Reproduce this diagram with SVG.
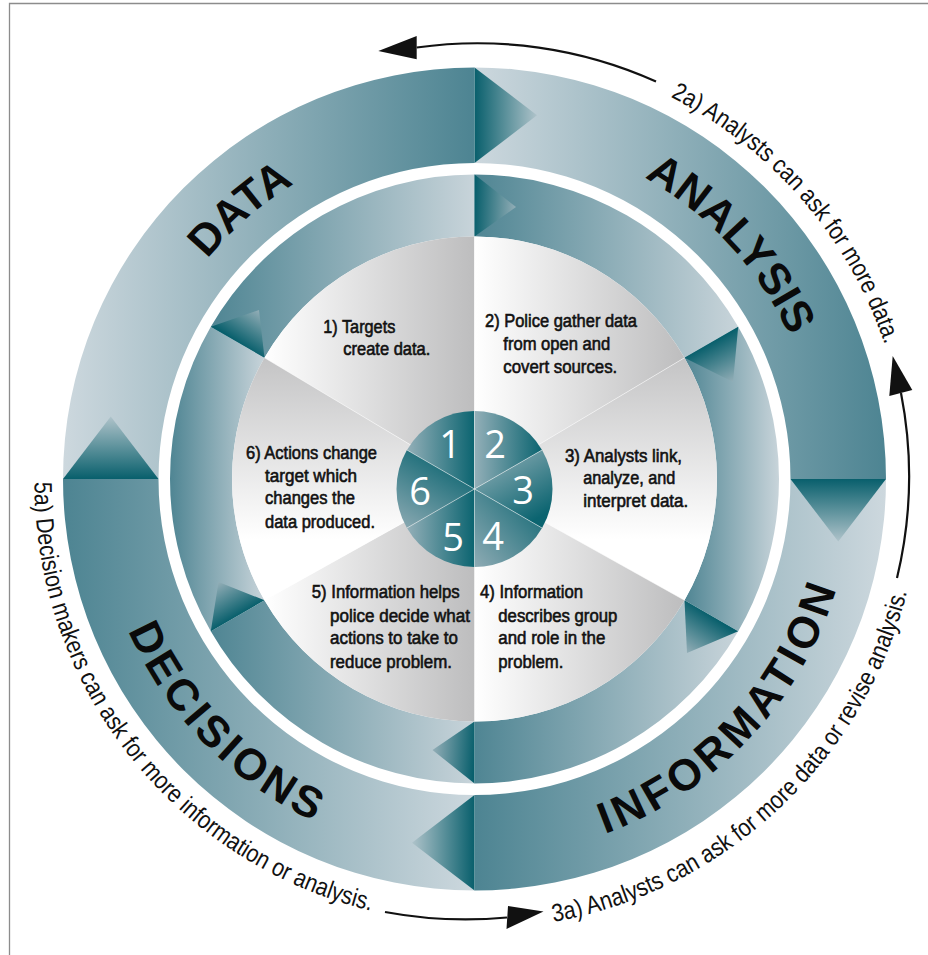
<svg xmlns="http://www.w3.org/2000/svg" width="928" height="955" viewBox="0 0 928 955">
<defs>
<style>
.lbl{font-family:"Liberation Sans",Arial,sans-serif;font-weight:bold;font-size:44px;fill:#0a0a0a}
.ann{font-family:"Liberation Sans",Arial,sans-serif;font-size:25px;fill:#111}
.pt{font-family:"Liberation Sans",Arial,sans-serif;font-size:18px;fill:#111;stroke:#111;stroke-width:0.6}
.num{font-family:"Open Sans","Noto Sans",sans-serif;font-size:38px;fill:#fff;text-anchor:middle}
.sep{stroke:#fff;stroke-opacity:0.55;stroke-width:0.9;fill:none}
.conn{fill:none;stroke:#111;stroke-width:2.2}
.head{fill:#111}
</style>
<linearGradient id="oLD" x1="0" y1="0" x2="1" y2="0"><stop offset="0" stop-color="#cdd8de"/><stop offset="1" stop-color="#4d8492"/></linearGradient>
<linearGradient id="oDL" x1="0" y1="0" x2="1" y2="0"><stop offset="0" stop-color="#4d8492"/><stop offset="1" stop-color="#cdd8de"/></linearGradient>
<linearGradient id="iDL" x1="0" y1="0" x2="1" y2="0"><stop offset="0" stop-color="#4f8593"/><stop offset="1" stop-color="#c8d4da"/></linearGradient>
<linearGradient id="pH" x1="0" y1="0" x2="1" y2="0"><stop offset="0" stop-color="#ffffff"/><stop offset="1" stop-color="#bdbdbe"/></linearGradient>
<linearGradient id="pV" x1="0" y1="0" x2="0" y2="1"><stop offset="0" stop-color="#c4c4c5"/><stop offset="0.75" stop-color="#ffffff"/></linearGradient>
<linearGradient id="c1" x1="0" y1="0" x2="1" y2="0"><stop offset="0" stop-color="#93afb8"/><stop offset="1" stop-color="#0b6470"/></linearGradient>
<linearGradient id="c3" x1="0" y1="0" x2="0.6" y2="1"><stop offset="0" stop-color="#9db6be"/><stop offset="1" stop-color="#0b6470"/></linearGradient>
<linearGradient id="c4" x1="0" y1="1" x2="1" y2="0"><stop offset="0" stop-color="#8eabb4"/><stop offset="1" stop-color="#0b6470"/></linearGradient>
<linearGradient id="c6" x1="0.6" y1="0" x2="0" y2="1"><stop offset="0" stop-color="#0b6470"/><stop offset="1" stop-color="#8eabb4"/></linearGradient>
<linearGradient id="tO1" gradientUnits="userSpaceOnUse" x1="474.5" y1="115" x2="537" y2="115"><stop offset="0" stop-color="#085f6c"/><stop offset="1" stop-color="#afc3ca"/></linearGradient>
<linearGradient id="tO2" gradientUnits="userSpaceOnUse" x1="838" y1="479" x2="838" y2="541.5"><stop offset="0" stop-color="#085f6c"/><stop offset="1" stop-color="#afc3ca"/></linearGradient>
<linearGradient id="tO3" gradientUnits="userSpaceOnUse" x1="474.5" y1="843" x2="412" y2="843"><stop offset="0" stop-color="#085f6c"/><stop offset="1" stop-color="#afc3ca"/></linearGradient>
<linearGradient id="tO4" gradientUnits="userSpaceOnUse" x1="110.75" y1="479" x2="110.75" y2="416.5"><stop offset="0" stop-color="#085f6c"/><stop offset="1" stop-color="#afc3ca"/></linearGradient>
<linearGradient id="tI1" gradientUnits="userSpaceOnUse" x1="474.5" y1="205.5" x2="516" y2="207"><stop offset="0" stop-color="#085f6c"/><stop offset="1" stop-color="#93aeb7"/></linearGradient>
<linearGradient id="tI2" gradientUnits="userSpaceOnUse" x1="711.35" y1="342.25" x2="733" y2="382"><stop offset="0" stop-color="#085f6c"/><stop offset="1" stop-color="#93aeb7"/></linearGradient>
<linearGradient id="tI3" gradientUnits="userSpaceOnUse" x1="711.35" y1="615.75" x2="687" y2="653"><stop offset="0" stop-color="#085f6c"/><stop offset="1" stop-color="#93aeb7"/></linearGradient>
<linearGradient id="tI4" gradientUnits="userSpaceOnUse" x1="474.5" y1="752.5" x2="432.5" y2="750"><stop offset="0" stop-color="#085f6c"/><stop offset="1" stop-color="#93aeb7"/></linearGradient>
<linearGradient id="tI5" gradientUnits="userSpaceOnUse" x1="237.65" y1="615.75" x2="218.5" y2="582"><stop offset="0" stop-color="#085f6c"/><stop offset="1" stop-color="#93aeb7"/></linearGradient>
<linearGradient id="tI6" gradientUnits="userSpaceOnUse" x1="237.65" y1="342.25" x2="259" y2="310"><stop offset="0" stop-color="#085f6c"/><stop offset="1" stop-color="#93aeb7"/></linearGradient>
<path id="pData" d="M128.5,479 A346,346 0 0 1 534.6,138.3"/>
<path id="pAnalysis" d="M414.4,138.3 A346,346 0 0 1 820.5,479"/>
<path id="pInfo" d="M408.9,851.3 A378,378 0 0 0 852.5,479"/>
<path id="pDec" d="M102.2,413.4 A378,378 0 0 0 540.1,851.3"/>
<path id="p2a" d="M670.4,96.9 A433,433 0 0 1 900.9,407.8"/>
<path id="p3a" d="M553.5,921.9 A446,446 0 0 0 918.8,521.9"/>
<path id="p5a" d="M34.5,482.2 A440,440 0 0 0 413.3,918.7"/>
</defs>

<rect width="928" height="955" fill="#ffffff"/>
<path d="M9.5,955 V3.5 H928" fill="none" stroke="#8c8c8c" stroke-width="1.3"/>

<g id="data">
<path d="M63,479 A411.5,411.5 0 0 1 474.5,67.5 L474.5,163 A316,316 0 0 0 158.5,479 Z" fill="url(#oLD)"/>
<polygon points="63,479 158.5,479 110.75,416.5" fill="url(#tO4)"/>
<text class="lbl"><textPath href="#pData" startOffset="295.9" text-anchor="middle">DATA</textPath></text>
</g>
<g id="analysis">
<path d="M474.5,67.5 A411.5,411.5 0 0 1 886,479 L790.5,479 A316,316 0 0 0 474.5,163 Z" fill="url(#oLD)"/>
<polygon points="474.5,67.5 474.5,163 537,115.25" fill="url(#tO1)"/>
<text class="lbl"><textPath href="#pAnalysis" startOffset="347.2" text-anchor="middle">ANALYSIS</textPath></text>
</g>
<g id="information">
<path d="M886,479 A411.5,411.5 0 0 1 474.5,890.5 L474.5,795 A316,316 0 0 0 790.5,479 Z" fill="url(#oDL)"/>
<polygon points="790.5,479 886,479 838.25,541.5" fill="url(#tO2)"/>
<text class="lbl"><textPath href="#pInfo" startOffset="373.4" text-anchor="middle" textLength="349" lengthAdjust="spacing">INFORMATION</textPath></text>
</g>
<g id="decisions">
<path d="M474.5,890.5 A411.5,411.5 0 0 1 63,479 L158.5,479 A316,316 0 0 0 474.5,795 Z" fill="url(#oDL)"/>
<polygon points="474.5,890.5 474.5,795 412,842.75" fill="url(#tO3)"/>
<text class="lbl"><textPath href="#pDec" startOffset="357.6" text-anchor="middle" textLength="272" lengthAdjust="spacing">DECISIONS</textPath></text>
</g>

<g id="inner-ring">
<path d="M474.5,174.5 A304.5,304.5 0 0 1 738.2,326.75 L684.5,357.75 A242.5,242.5 0 0 0 474.5,236.5 Z" fill="url(#iDL)"/>
<path d="M738.2,326.75 A304.5,304.5 0 0 1 738.2,631.25 L684.5,600.25 A242.5,242.5 0 0 0 684.5,357.75 Z" fill="url(#iDL)"/>
<path d="M738.2,631.25 A304.5,304.5 0 0 1 474.5,783.5 L474.5,721.5 A242.5,242.5 0 0 0 684.5,600.25 Z" fill="url(#iDL)"/>
<path d="M474.5,783.5 A304.5,304.5 0 0 1 210.8,631.25 L264.5,600.25 A242.5,242.5 0 0 0 474.5,721.5 Z" fill="url(#iDL)"/>
<path d="M210.8,631.25 A304.5,304.5 0 0 1 210.8,326.75 L264.5,357.75 A242.5,242.5 0 0 0 264.5,600.25 Z" fill="url(#iDL)"/>
<path d="M210.8,326.75 A304.5,304.5 0 0 1 474.5,174.5 L474.5,236.5 A242.5,242.5 0 0 0 264.5,357.75 Z" fill="url(#iDL)"/>
<polygon points="474.5,174.5 474.5,236.5 516,207" fill="url(#tI1)"/>
<polygon points="738.2,326.75 684.5,357.75 733,382" fill="url(#tI2)"/>
<polygon points="684.5,600.25 738.2,631.25 687,653" fill="url(#tI3)"/>
<polygon points="474.5,721.5 474.5,783.5 432.5,750" fill="url(#tI4)"/>
<polygon points="264.5,600.25 210.8,631.25 218.5,582" fill="url(#tI5)"/>
<polygon points="210.8,326.75 264.5,357.75 259,310" fill="url(#tI6)"/>
</g>

<g id="step1">
<path d="M474.5,483 L474.5,236.5 A242.5,242.5 0 0 0 264.5,357.75 Z" fill="url(#pH)"/>
<text class="pt"><tspan x="323.3" y="333.3" textLength="72" lengthAdjust="spacingAndGlyphs">1) Targets</tspan><tspan x="343.3" y="355" textLength="87" lengthAdjust="spacingAndGlyphs">create data.</tspan></text>
</g>
<g id="step2">
<path d="M474.5,483 L684.5,357.75 A242.5,242.5 0 0 0 474.5,236.5 Z" fill="url(#pH)"/>
<text class="pt"><tspan x="485" y="326.7" textLength="152" lengthAdjust="spacingAndGlyphs">2) Police gather data</tspan><tspan x="503.3" y="350" textLength="107" lengthAdjust="spacingAndGlyphs">from open and</tspan><tspan x="503.3" y="372.7" textLength="114" lengthAdjust="spacingAndGlyphs">covert sources.</tspan></text>
</g>
<g id="step3">
<path d="M474.5,483 L684.5,600.25 A242.5,242.5 0 0 0 684.5,357.75 Z" fill="url(#pV)"/>
<text class="pt"><tspan x="565" y="461.7" textLength="117" lengthAdjust="spacingAndGlyphs">3) Analysts link,</tspan><tspan x="583.3" y="484" textLength="92" lengthAdjust="spacingAndGlyphs">analyze, and</tspan><tspan x="583.3" y="506.7" textLength="105" lengthAdjust="spacingAndGlyphs">interpret data.</tspan></text>
</g>
<g id="step4">
<path d="M474.5,483 L474.5,721.5 A242.5,242.5 0 0 0 684.5,600.25 Z" fill="url(#pH)"/>
<text class="pt"><tspan x="480" y="598.3" textLength="103" lengthAdjust="spacingAndGlyphs">4) Information</tspan><tspan x="498.3" y="621.7" textLength="119" lengthAdjust="spacingAndGlyphs">describes group</tspan><tspan x="498.3" y="644.3" textLength="107" lengthAdjust="spacingAndGlyphs">and role in the</tspan><tspan x="498.3" y="667.7" textLength="65" lengthAdjust="spacingAndGlyphs">problem.</tspan></text>
</g>
<g id="step5">
<path d="M474.5,483 L264.5,600.25 A242.5,242.5 0 0 0 474.5,721.5 Z" fill="url(#pH)"/>
<text class="pt"><tspan x="311.7" y="598.3" textLength="148" lengthAdjust="spacingAndGlyphs">5) Information helps</tspan><tspan x="330" y="621.7" textLength="140" lengthAdjust="spacingAndGlyphs">police decide what</tspan><tspan x="330" y="644.3" textLength="128" lengthAdjust="spacingAndGlyphs">actions to take to</tspan><tspan x="330" y="667.7" textLength="122" lengthAdjust="spacingAndGlyphs">reduce problem.</tspan></text>
</g>
<g id="step6">
<path d="M474.5,483 L264.5,357.75 A242.5,242.5 0 0 0 264.5,600.25 Z" fill="url(#pV)"/>
<text class="pt"><tspan x="246" y="459.3" textLength="131" lengthAdjust="spacingAndGlyphs">6) Actions change</tspan><tspan x="265" y="481.7" textLength="92" lengthAdjust="spacingAndGlyphs">target which</tspan><tspan x="265" y="504.3" textLength="90" lengthAdjust="spacingAndGlyphs">changes the</tspan><tspan x="265" y="527.7" textLength="110" lengthAdjust="spacingAndGlyphs">data produced.</tspan></text>
</g>
<g id="pie-lines">
<path class="sep" d="M474.5,483 L474.5,236.5 M474.5,483 L684.5,357.75 M474.5,483 L684.5,600.25 M474.5,483 L474.5,721.5 M474.5,483 L264.5,600.25 M474.5,483 L264.5,357.75"/>
</g>

<g id="hub">
<path d="M474.5,489 L474.5,411 A78,78 0 0 0 406.95,450 Z" fill="url(#c1)"/>
<path d="M474.5,489 L542.05,450 A78,78 0 0 0 474.5,411 Z" fill="url(#c1)"/>
<path d="M474.5,489 L542.05,528 A78,78 0 0 0 542.05,450 Z" fill="url(#c3)"/>
<path d="M474.5,489 L474.5,567 A78,78 0 0 0 542.05,528 Z" fill="url(#c4)"/>
<path d="M474.5,489 L406.95,528 A78,78 0 0 0 474.5,567 Z" fill="url(#c1)"/>
<path d="M474.5,489 L406.95,450 A78,78 0 0 0 406.95,528 Z" fill="url(#c6)"/>
<path class="sep" d="M474.5,411 V567 M406.95,450 L542.05,528 M542.05,450 L406.95,528"/>
<text class="num" x="450" y="458">1</text>
<text class="num" x="495" y="458">2</text>
<text class="num" x="523" y="504">3</text>
<text class="num" x="493" y="550">4</text>
<text class="num" x="453" y="551">5</text>
<text class="num" x="420" y="505">6</text>
</g>

<g id="connectors">
<path class="conn" d="M656,81.5 A436,436 0 0 0 416.7,47.5"/>
<polygon class="head" points="378.3,51 416.7,36 416.7,59.3"/>
<path class="conn" d="M897,578 A435,435 0 0 0 901,393"/>
<polygon class="head" points="892.7,356 912.3,390 889.3,396"/>
<path class="conn" d="M385,912 A441,441 0 0 0 507,917.5"/>
<polygon class="head" points="543.5,911.5 508,906 506.5,929"/>
</g>

<g id="annotations">
<text class="ann"><textPath href="#p2a" textLength="336" lengthAdjust="spacingAndGlyphs">2a) Analysts can ask for more data.</textPath></text>
<text class="ann"><textPath href="#p3a" textLength="511" lengthAdjust="spacingAndGlyphs">3a) Analysts can ask for more data or revise analysis.</textPath></text>
<text class="ann"><textPath href="#p5a" textLength="587" lengthAdjust="spacingAndGlyphs">5a) Decision makers can ask for more information or analysis.</textPath></text>
</g>
</svg>
